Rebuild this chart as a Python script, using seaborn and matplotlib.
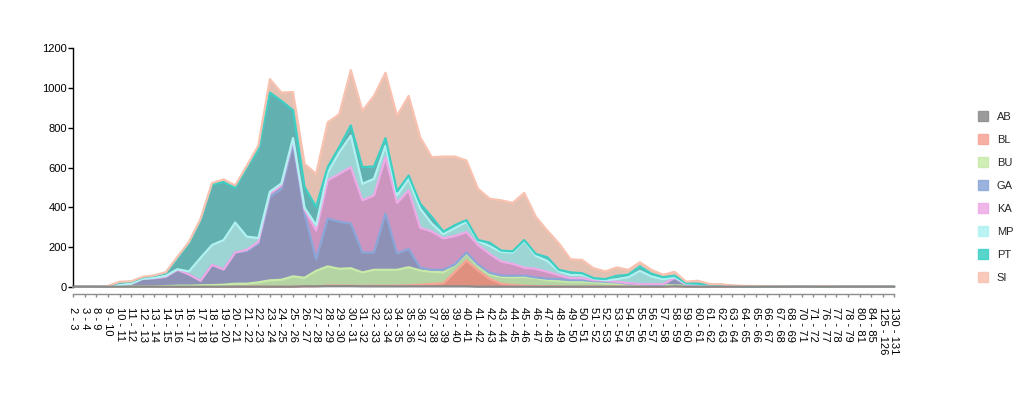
import numpy as np
import pandas as pd
import matplotlib
matplotlib.use("Agg")
import matplotlib.pyplot as plt
import seaborn as sns
from matplotlib.patches import Patch

# age bands on the x axis
categories = ["2 - 3", "3 - 4", "8 - 9", "9 - 10", "10 - 11", "11 - 12", "12 - 13", "13 - 14",
              "14 - 15", "15 - 16", "16 - 17", "17 - 18", "18 - 19", "19 - 20", "20 - 21", "21 - 22",
              "22 - 23", "23 - 24", "24 - 25", "25 - 26", "26 - 27", "27 - 28", "28 - 29", "29 - 30",
              "30 - 31", "31 - 32", "32 - 33", "33 - 34", "34 - 35", "35 - 36", "36 - 37", "37 - 38",
              "38 - 39", "39 - 40", "40 - 41", "41 - 42", "42 - 43", "43 - 44", "44 - 45", "45 - 46",
              "46 - 47", "47 - 48", "48 - 49", "49 - 50", "50 - 51", "51 - 52", "52 - 53", "53 - 54",
              "54 - 55", "55 - 56", "56 - 57", "57 - 58", "58 - 59", "59 - 60", "60 - 61", "61 - 62",
              "62 - 63", "63 - 64", "64 - 65", "65 - 66", "66 - 67", "67 - 68", "68 - 69", "70 - 71",
              "71 - 72", "76 - 77", "77 - 78", "78 - 79", "80 - 81", "84 - 85", "125 - 126", "130 - 131"]

ab = [0, 0, 0, 0, 0, 0, 0, 0, 0, 0, 0, 0, 0, 0, 0, 0, 0, 0, 0, 0,
      2, 2, 3, 3, 3, 2, 2, 2, 2, 2, 2, 2, 2, 2, 2, 0, 0, 0, 0, 0,
      0, 0, 0, 0, 0, 0, 0, 0, 0, 0, 0, 0, 2, 0, 0, 0, 0, 0, 0, 0,
      0, 0, 0, 0, 0, 0, 0, 0, 0, 0, 0, 0]
bl = [0, 0, 0, 0, 0, 0, 0, 0, 0, 0, 0, 0, 0, 0, 0, 0, 0, 0, 0, 0,
      0, 0, 3, 3, 2, 2, 3, 3, 3, 5, 8, 12, 15, 72, 130, 82, 40, 15, 8, 5,
      3, 2, 1, 0, 0, 0, 0, 0, 0, 0, 0, 0, 0, 0, 0, 0, 0, 0, 0, 0,
      0, 0, 0, 0, 0, 0, 0, 0, 0, 0, 0, 0]
bu = [0, 0, 0, 0, 0, 0, 0, 0, 3, 5, 5, 7, 8, 10, 15, 15, 22, 32, 35, 52,
      43, 78, 96, 84, 88, 68, 80, 80, 80, 91, 72, 61, 55, 36, 36, 23, 22, 35, 39, 45,
      40, 31, 27, 25, 25, 22, 18, 15, 12, 10, 8, 8, 4, 5, 5, 5, 5, 3, 2, 0,
      0, 0, 0, 0, 0, 0, 0, 0, 0, 0, 0, 0]
ga = [0, 0, 0, 0, 8, 15, 40, 43, 47, 80, 57, 23, 102, 77, 157, 165, 196, 420, 458, 666,
      323, 58, 241, 237, 225, 100, 87, 283, 83, 92, 13, 10, 13, 2, 4, 7, 8, 6, 8, 6,
      4, 7, 10, 8, 8, 6, 7, 7, 3, 2, 2, 2, 37, 5, 2, 1, 1, 0, 0, 0,
      0, 0, 0, 0, 0, 0, 0, 0, 0, 0, 0, 0]
ka = [0, 0, 0, 0, 0, 0, 0, 0, 0, 0, 0, 0, 0, 0, 0, 5, 7, 18, 17, 22,
      19, 145, 192, 241, 284, 263, 288, 284, 254, 295, 202, 193, 158, 143, 103, 98, 95, 71, 60, 40,
      43, 35, 20, 10, 10, 5, 5, 3, 3, 1, 3, 2, 2, 1, 1, 0, 0, 0, 0, 0,
      0, 0, 0, 0, 0, 0, 0, 0, 0, 0, 0, 0]
mp = [0, 0, 0, 0, 0, 0, 0, 2, 5, 3, 15, 115, 100, 148, 151, 67, 20, 8, 10, 8,
      10, 27, 40, 109, 158, 83, 83, 58, 38, 58, 96, 40, 22, 40, 52, 20, 40, 48, 57, 134,
      65, 55, 19, 17, 17, 7, 3, 13, 30, 67, 39, 26, 3, 4, 4, 4, 0, 0, 0, 0,
      0, 0, 0, 0, 0, 0, 0, 0, 0, 0, 0, 0]
pt = [0, 0, 0, 2, 14, 10, 7, 10, 15, 57, 143, 190, 305, 292, 174, 350, 443, 499, 415, 140,
      105, 92, 27, 26, 52, 84, 62, 38, 20, 17, 25, 34, 12, 15, 8, 5, 17, 7, 6, 5,
      10, 18, 8, 12, 8, 3, 5, 17, 12, 22, 13, 10, 7, 3, 3, 2, 4, 1, 0, 0,
      0, 0, 0, 0, 0, 0, 0, 0, 0, 0, 0, 0]
si = [0, 0, 0, 1, 3, 2, 3, 2, 3, 5, 5, 5, 7, 13, 13, 6, 22, 68, 42, 92,
      116, 166, 225, 165, 278, 283, 355, 329, 380, 400, 334, 300, 378, 345, 300, 258, 221, 253, 244, 237,
      187, 134, 133, 66, 67, 50, 39, 42, 25, 21, 20, 12, 20, 7, 15, 2, 2, 2, 2, 3,
      2, 1, 0, 0, 0, 3, 0, 0, 0, 0, 0, 0]

series_names = ["AB", "BL", "BU", "GA", "KA", "MP", "PT", "SI"]
fill_colors = ["#9a9a9a", "#e0907f", "#b4d4a4", "#8d91b6", "#cb95c0", "#9dd5d5", "#62b1b0", "#e2c1b2"]
line_colors = ["#8a8a8a", "#f7a396", "#c8eba8", "#8aa6d8", "#eeaae6", "#b0f2f2", "#3ccfc4", "#f8c1b0"]

values = [ab, bl, bu, ga, ka, mp, pt, si]
x = np.arange(len(categories))
tops = np.cumsum(np.array(values), axis=0)

sns.set_style("white")
plt.rcParams["font.family"] = ["Liberation Sans", "DejaVu Sans"]

fig = plt.figure(figsize=(10.3, 3.96), dpi=100)
ax = fig.add_axes([0.0712, 0.276, 0.797, 0.602])

# spine offset first, it resets the ticks
for s in ["top", "right"]:
    ax.spines[s].set_visible(False)
ax.spines["bottom"].set_position(("outward", 5))
ax.spines["left"].set_color("black")
ax.spines["left"].set_linewidth(1)
ax.spines["bottom"].set_color("#8c8c8c")
ax.spines["bottom"].set_linewidth(1)

ax.stackplot(x, *values, colors=fill_colors, linewidth=0)

long = pd.DataFrame({"x": np.tile(x, len(series_names)),
                     "y": tops.ravel(),
                     "series": np.repeat(series_names, len(x))})
sns.lineplot(data=long, x="x", y="y", hue="series", hue_order=series_names,
             palette=dict(zip(series_names, line_colors)), estimator=None,
             linewidth=1.6, legend=False, ax=ax)
for ln in ax.lines:
    ln.set_clip_on(False)
# grey AB outline runs along the baseline on top of the rest
ax.lines[0].set_zorder(5)

ax.set_xlim(0, len(categories) - 1)
ax.set_ylim(0, 1200)
ax.set_yticks(range(0, 1201, 200))
ax.set_xticks(x)
ax.set_xticklabels(categories)
ax.set_xlabel("")
ax.set_ylabel("")

ax.tick_params(axis="y", left=True, direction="out", length=3.6, width=1,
               color="black", labelsize=8, pad=1, labelcolor="black")
ax.tick_params(axis="x", bottom=True, direction="out", length=2.5, width=1,
               color="#8c8c8c", labelsize=8, pad=7, labelcolor="black", labelrotation=-90)
for lab in ax.get_xticklabels():
    lab.set_ha("center")
    lab.set_va("top")

handles = [Patch(facecolor=c, edgecolor=c, alpha=0.85, linewidth=1) for c in line_colors]
ax.legend(handles, series_names, loc="center left", bbox_to_anchor=(0.9495, 0.5025),
          bbox_transform=fig.transFigure, frameon=False, fontsize=8,
          handlelength=0.9, handleheight=0.9, handletextpad=0.8,
          labelspacing=1.13, borderpad=0, borderaxespad=0)

fig.savefig("out.png", dpi=100)
